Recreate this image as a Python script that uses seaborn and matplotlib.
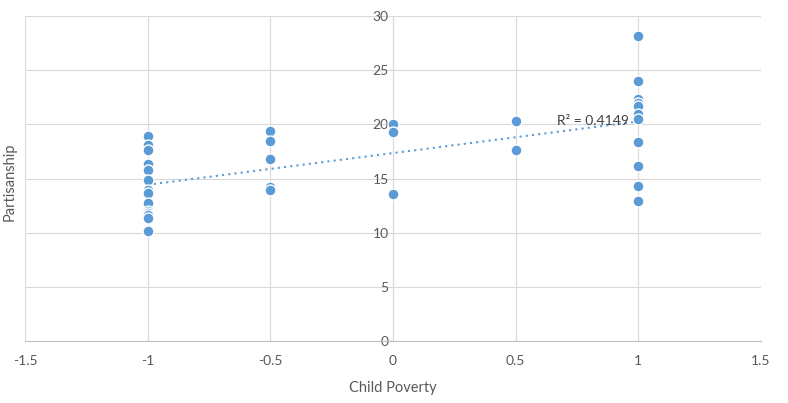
import numpy as np
import pandas as pd
import matplotlib
matplotlib.use('Agg')
import matplotlib.pyplot as plt
import seaborn as sns

# Values
x_minus1 = [18.9, 18.1, 17.6, 16.3, 15.8, 14.9, 13.9, 13.7, 12.7, 12.0, 11.8, 11.6, 11.4, 10.2]
x_minus05 = [19.4, 18.5, 16.8, 14.2, 13.9]
x_zero = [20.0, 19.3, 13.6]
x_05 = [20.3, 17.6]
x_one = [28.2, 24.0, 22.3, 22.0, 21.7, 21.0, 20.5, 18.4, 16.2, 14.3, 12.9]
r2_label = 'R² = 0.4149'

groups = {-1.0: x_minus1, -0.5: x_minus05, 0.0: x_zero, 0.5: x_05, 1.0: x_one}
rows = [(k, v) for k, vals in groups.items() for v in vals]
df = pd.DataFrame(rows, columns=['Child Poverty', 'Partisanship'])

sns.set_style('white')
plt.rcParams['font.family'] = ['Lato', 'DejaVu Sans']

blue = '#5b9bd5'
fig = plt.figure(figsize=(7.88, 4.03), dpi=100)
ax = fig.add_axes([0.0317, 0.1538, 0.934, 0.8065])

sns.scatterplot(data=df, x='Child Poverty', y='Partisanship', ax=ax,
                color=blue, s=62, edgecolor='white', linewidth=1, zorder=3)

# Linear trendline over the data range
slope, intercept = np.polyfit(df['Child Poverty'], df['Partisanship'], 1)
xs = np.array([df['Child Poverty'].min(), df['Child Poverty'].max()])
ax.plot(xs, slope * xs + intercept, color=blue, linestyle=(0, (1, 2)), linewidth=1.5, zorder=2)
ax.text(0.67, 20.3, r2_label, fontsize=10, color='#404040', va='center', ha='left', zorder=4)

ax.set_xlim(-1.5, 1.5)
ax.set_ylim(0, 30)
ax.set_xticks(np.arange(-1.5, 1.51, 0.5))
ax.set_xticklabels(['-1.5', '-1', '-0.5', '0', '0.5', '1', '1.5'])
ax.set_yticks(np.arange(0, 31, 5))
ax.grid(True, color='#d9d9d9', linewidth=0.8)
ax.set_axisbelow(True)

for s in ['top', 'right']:
    ax.spines[s].set_visible(False)
ax.spines['left'].set_position(('data', 0))
ax.spines['left'].set_color('#d9d9d9')
ax.spines['bottom'].set_color('#bfbfbf')
ax.tick_params(axis='both', length=0, labelsize=10, colors='#595959')
ax.tick_params(axis='x', pad=10)
ax.tick_params(axis='y', pad=3)

ax.set_xlabel('Child Poverty', fontsize=10.5, color='#595959', labelpad=10)
ax.set_ylabel('')
fig.text(0.012, 0.55, 'Partisanship', rotation=90, fontsize=10.5, color='#595959',
         va='center', ha='center')

fig.savefig('out.png', dpi=100)
